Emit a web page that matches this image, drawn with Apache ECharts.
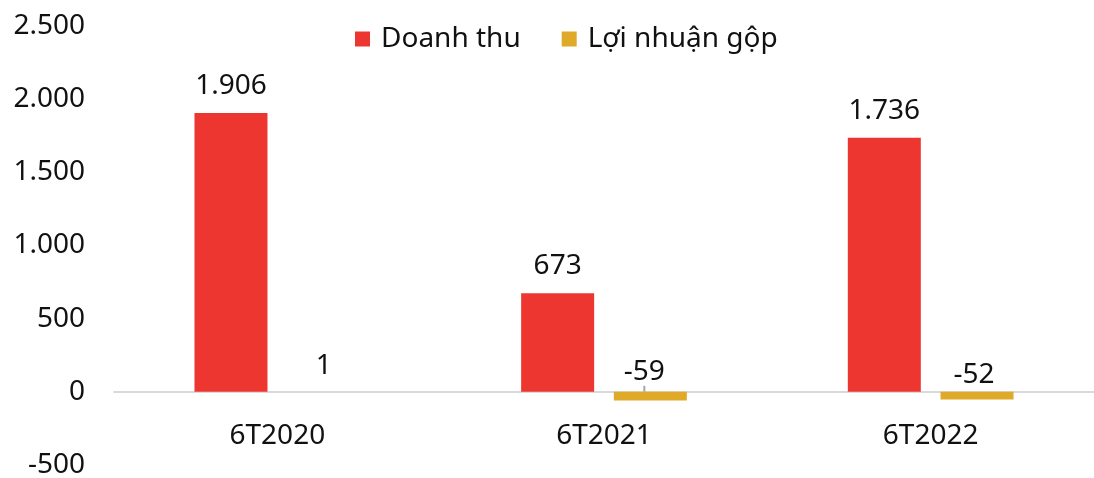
<!DOCTYPE html>
<html>
<head>
<meta charset="utf-8">
<script src="https://cdn.jsdelivr.net/npm/echarts@6/dist/echarts.min.js"></script>
<style>
  html, body { margin: 0; padding: 0; background: #fff; }
  #chart { width: 1094px; height: 478px; }
</style>
</head>
<body>
<div id="chart"></div>
<script>
// data
var categories = ['6T2020', '6T2021', '6T2022'];
var revenue = [1906, 673, 1736];
var grossProfit = [1, -59, -52];
var seriesNames = ['Doanh thu', 'Lợi nhuận gộp'];

var RED = '#EE3631';
var GOLD = '#DFAA2A';
var FONT = 'Noto Sans';
var FS = 28;

// 1906 -> "1.906"
function fmt(v) {
  var s = String(Math.abs(v)).replace(/\B(?=(\d{3})+(?!\d))/g, '.');
  return (v < 0 ? '-' : '') + s;
}

var chart = echarts.init(document.getElementById('chart'));

chart.setOption({
  animation: false,
  textStyle: { fontFamily: FONT },
  legend: {
    left: 350,
    top: 20,
    itemWidth: 15,
    itemHeight: 15,
    itemGap: 41,
    icon: 'rect',
    textStyle: { fontSize: FS, color: '#111', fontFamily: FONT, padding: [0, 0, 0, 6] },
    data: seriesNames
  },
  grid: { left: 114, right: 0, top: 26, bottom: 13, outerBoundsMode: 'none' },
  xAxis: {
    type: 'category',
    data: categories,
    axisLine: { onZero: true, lineStyle: { color: '#d9d9d9', width: 2 } },
    axisTick: { show: false },
    axisLabel: { fontSize: FS, color: '#111', margin: -43, fontFamily: FONT }
  },
  yAxis: {
    type: 'value',
    min: -500,
    max: 2500,
    interval: 500,
    splitLine: { show: false },
    axisLine: { show: false },
    axisTick: { show: false },
    axisLabel: {
      fontSize: FS, color: '#111', margin: 29, fontFamily: FONT,
      formatter: function (v) { return fmt(v); }
    }
  },
  series: [
    {
      name: seriesNames[0],
      type: 'bar',
      data: revenue,
      barWidth: 73,
      barGap: '27%',
      itemStyle: { color: RED },
      label: {
        show: true, position: 'top', distance: 13,
        fontSize: FS, color: '#111', fontFamily: FONT,
        formatter: function (p) { return fmt(p.value); }
      }
    },
    {
      name: seriesNames[1],
      type: 'bar',
      data: [
        { value: grossProfit[0], labelLine: { show: false } },
        grossProfit[1],
        { value: grossProfit[2], labelLine: { show: false } }
      ],
      barWidth: 73,
      itemStyle: { color: GOLD },
      label: {
        show: true, position: 'top', distance: 12,
        fontSize: FS, color: '#111', fontFamily: FONT,
        formatter: function (p) { return fmt(p.value); }
      },
      labelLine: { show: true, lineStyle: { color: '#a6a6a6', width: 2 } },
      labelLayout: function (p) {
        if (p.dataIndex === 1) return { dx: -6, dy: 6 };
        if (p.dataIndex === 2) return { dx: -3, dy: 9 };
        return {};
      }
    }
  ]
});
</script>
</body>
</html>
